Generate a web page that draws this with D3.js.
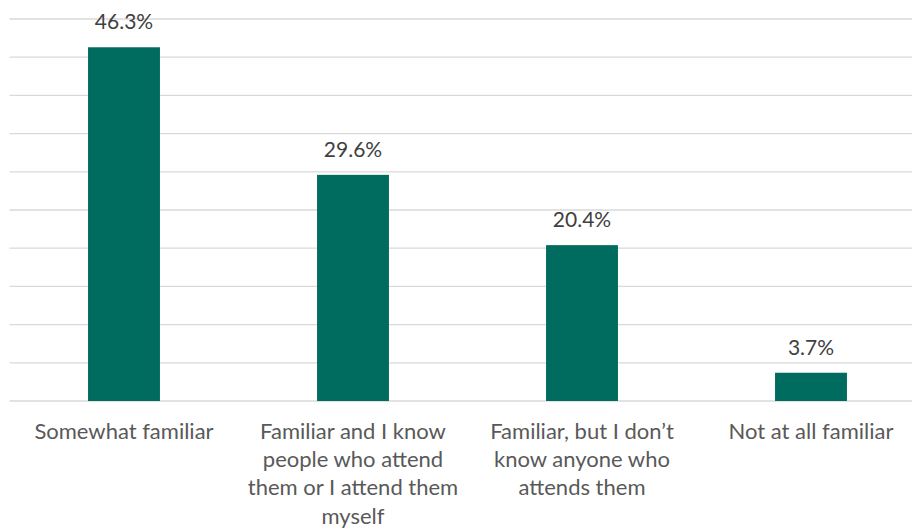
<!DOCTYPE html>
<html>
<head>
<meta charset="utf-8">
<script src="https://cdn.jsdelivr.net/npm/d3@7"></script>
<style>
  html, body { margin: 0; padding: 0; background: #ffffff; overflow: hidden; }
  svg { display: block; }
</style>
</head>
<body>
<div id="chart"></div>
<script>
// Familiarity responses (share of respondents, %)
const categories = [
  "Somewhat familiar",
  "Familiar and I know people who attend them or I attend them myself",
  "Familiar, but I don\u2019t know anyone who attends them",
  "Not at all familiar"
];
const categoryLines = [
  ["Somewhat familiar"],
  ["Familiar and I know", "people who attend", "them or I attend them", "myself"],
  ["Familiar, but I don\u2019t", "know anyone who", "attends them"],
  ["Not at all familiar"]
];
const values = [46.3, 29.6, 20.4, 3.7];
const gridTicks = [0, 5, 10, 15, 20, 25, 30, 35, 40, 45, 50];

const width = 912, height = 529;
const plot = { left: 9.5, right: 925.5, top: 19, bottom: 401 };

const svg = d3.select("#chart").append("svg")
  .attr("width", width)
  .attr("height", height);

const x = d3.scaleBand()
  .domain(categories)
  .range([plot.left, plot.right])
  .paddingInner(0.686)
  .paddingOuter(0.343);

const y = d3.scaleLinear()
  .domain([0, 50])
  .range([plot.bottom, plot.top]);

// Horizontal gridlines
svg.append("g")
  .selectAll("line")
  .data(gridTicks)
  .join("line")
  .attr("x1", plot.left)
  .attr("x2", plot.right)
  .attr("y1", d => y(d))
  .attr("y2", d => y(d))
  .attr("stroke", "#d9d9d9")
  .attr("stroke-width", 1.3);

// Bars
svg.append("g")
  .selectAll("rect")
  .data(values)
  .join("rect")
  .attr("x", (d, i) => x(categories[i]))
  .attr("y", d => y(d))
  .attr("width", x.bandwidth())
  .attr("height", d => y(0) - y(d))
  .attr("fill", "#006b5f");

const font = "Lato, 'Open Sans', sans-serif";

// Value labels
svg.append("g")
  .selectAll("text")
  .data(values)
  .join("text")
  .attr("x", (d, i) => x(categories[i]) + x.bandwidth() / 2)
  .attr("y", d => y(d) - 18)
  .attr("text-anchor", "middle")
  .attr("font-family", font)
  .attr("font-size", 21)
  .attr("fill", "#404040")
  .text(d => d.toFixed(1) + "%");

// Category labels (wrapped)
const labels = svg.append("g")
  .selectAll("text")
  .data(categories)
  .join("text")
  .attr("x", d => x(d) + x.bandwidth() / 2)
  .attr("y", plot.bottom + 37.5)
  .attr("text-anchor", "middle")
  .attr("font-family", font)
  .attr("font-size", 22)
  .attr("fill", "#595959");

labels.each(function(d, i) {
  const t = d3.select(this);
  categoryLines[i].forEach((line, j) => {
    t.append("tspan")
      .attr("x", x(d) + x.bandwidth() / 2)
      .attr("dy", j === 0 ? 0 : 28.4)
      .text(line);
  });
});
</script>
</body>
</html>
